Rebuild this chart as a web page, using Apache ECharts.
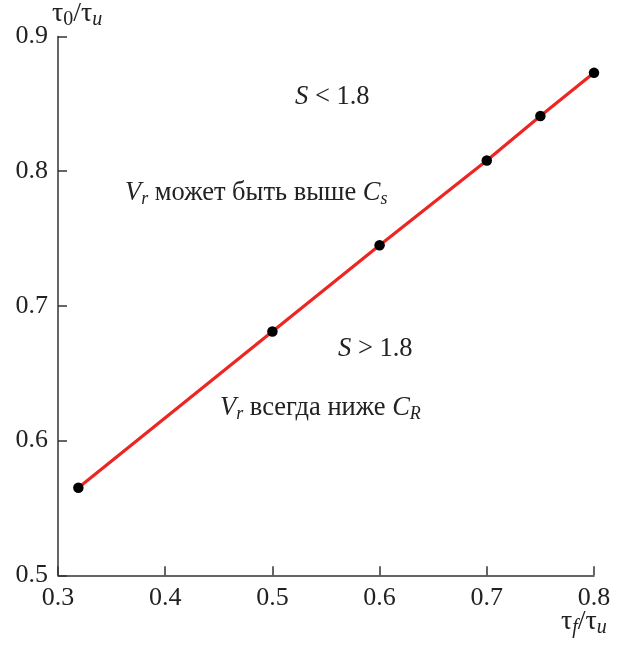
<!DOCTYPE html>
<html>
<head>
<meta charset="utf-8">
<script src="https://cdn.jsdelivr.net/npm/echarts@6/dist/echarts.min.js"></script>
<style>html,body{margin:0;padding:0;background:#fff;}#c{width:624px;height:645px;}</style>
</head>
<body>
<div id="c"></div>
<script>
var xValues = [0.319, 0.5, 0.6, 0.7, 0.75, 0.8];
var yValues = [0.565, 0.681, 0.745, 0.808, 0.841, 0.873];
var xTicks = [0.3, 0.4, 0.5, 0.6, 0.7, 0.8];
var yTicks = [0.5, 0.6, 0.7, 0.8, 0.9];

var FONT = '"Liberation Serif", "Times New Roman", serif';
var chart = echarts.init(document.getElementById('c'));
var pts = xValues.map(function (x, i) { return [x, yValues[i]]; });

function richSet(size, subSize, pad) {
  return {
    m: { fontFamily: FONT, fontSize: size, fill: '#222' },
    i: { fontFamily: FONT, fontSize: size, fill: '#222', fontStyle: 'italic' },
    s: { fontFamily: FONT, fontSize: subSize, fontStyle: 'italic', fill: '#222', padding: [pad, 0, 0, 0] },
    su: { fontFamily: FONT, fontSize: subSize, fill: '#222', padding: [pad, 0, 0, 0] }
  };
}

function txt(x, y, text) {
  return {
    type: 'text', left: x, top: y,
    style: { text: text, rich: richSet(26.5, 18, 12), fill: '#222' }
  };
}

chart.setOption({
  animation: false,
  backgroundColor: '#fff',
  grid: { left: 58, right: 30, top: 36.5, bottom: 69.7, containLabel: false, outerBoundsMode: 'none' },
  xAxis: {
    type: 'value', min: xTicks[0], max: xTicks[xTicks.length - 1], interval: 0.1,
    axisLine: { lineStyle: { color: '#333', width: 1.5 } },
    axisTick: { inside: true, length: 9, lineStyle: { color: '#333', width: 1.5 } },
    axisLabel: { margin: 10, fontFamily: FONT, fontSize: 26, color: '#222',
      formatter: function (v) { return v.toFixed(1); } },
    splitLine: { show: false }
  },
  yAxis: {
    type: 'value', min: yTicks[0], max: yTicks[yTicks.length - 1], interval: 0.1,
    axisLine: { show: true, lineStyle: { color: '#333', width: 1.5 } },
    axisTick: { show: true, inside: true, length: 9, lineStyle: { color: '#333', width: 1.5 } },
    axisLabel: { margin: 10, fontFamily: FONT, fontSize: 26, color: '#222',
      formatter: function (v) { return v.toFixed(1); } },
    splitLine: { show: false }
  },
  graphic: [
    txt(295, 84, '{i|S}{m| < 1.8}'),
    txt(125, 180, '{i|V}{s|r}{m| может быть выше }{i|C}{s|s}'),
    txt(338, 336, '{i|S}{m| > 1.8}'),
    txt(220, 395, '{i|V}{s|r}{m| всегда ниже }{i|C}{s|R}'),
    { type: 'text', left: 52, top: 0,
      style: { text: '{m|τ}{su|0}{m|/τ}{s|u}', rich: richSet(28, 20, 12), fill: '#222' } },
    { type: 'text', left: 561, top: 608,
      style: { text: '{m|τ}{s|f}{m|/τ}{s|u}', rich: richSet(28, 20, 12), fill: '#222' } }
  ],
  series: [{
    type: 'line',
    data: pts,
    symbol: 'circle',
    symbolSize: 10.5,
    lineStyle: { color: '#ec2622', width: 3.2 },
    itemStyle: { color: '#000' },
    z: 3
  }]
});
</script>
</body>
</html>
